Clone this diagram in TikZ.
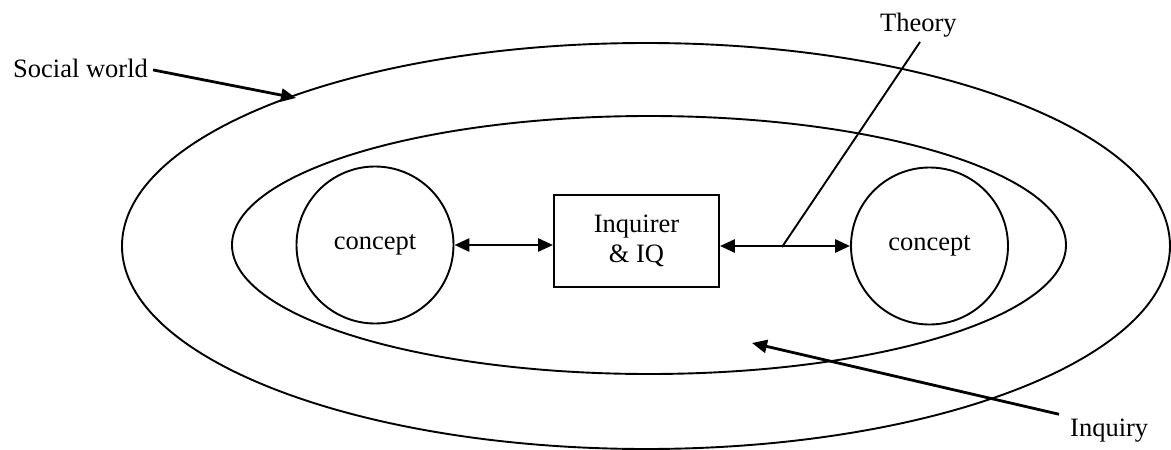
\documentclass[tikz,border=0pt]{standalone}
\usepackage{fontspec}
\setmainfont{Liberation Serif}
\usetikzlibrary{arrows.meta}
\begin{document}
\begin{tikzpicture}[x=1pt,y=-1pt,
  thin line/.style={line width=1.9pt},
  arr/.style={line width=2.8pt, -{Triangle[length=15pt,width=13pt]}},
  darr/.style={line width=2.8pt, {Triangle[length=15pt,width=13pt]}-{Triangle[length=15pt,width=13pt]}},
  concept/.style={circle, draw, thin line, minimum size=157pt, inner sep=0pt},
  lbl/.style={inner sep=3pt},
  every node/.style={font=\fontsize{26.5}{31}\selectfont}]
\useasboundingbox (0,0) rectangle (1171,450);
% ellipses
\draw[thin line] (646,246) ellipse [x radius=524, y radius=203];
\draw[thin line] (649,245) ellipse [x radius=417, y radius=129];
% nodes
\node[concept] (c1) at (375,245) {concept};
\node[concept] (c2) at (929.5,246) {concept};
\node[draw, line width=1.9pt, minimum width=165pt, minimum height=92pt, align=center, inner sep=2pt] (box) at (636.5,241) {Inquirer\\[-1pt] \& IQ};
\node[lbl, anchor=base west] (sw) at (10,77) {Social world};
\node[lbl, anchor=base west] (th) at (877,31) {Theory};
\node[lbl, anchor=base west] (iq) at (1067,436) {Inquiry};
% coordinates
\coordinate (swtip) at (296,98);
\coordinate (iqtip) at (752,343);
\coordinate (thfoot) at (782,247);
\coordinate (thtop) at (920,42);
% connectors
\draw[darr] (c1.east) -- (box.west |- c1.east);
\draw[darr] (box.east |- c2.west) -- (c2.west);
\draw[line width=1.9pt] (thtop) -- (thfoot);
\draw[arr] ([xshift=2pt,yshift=-2pt]sw.east) -- (swtip);
\draw[arr] ([xshift=-8pt,yshift=1pt]iq.north west) -- (iqtip);
\end{tikzpicture}
\end{document}
